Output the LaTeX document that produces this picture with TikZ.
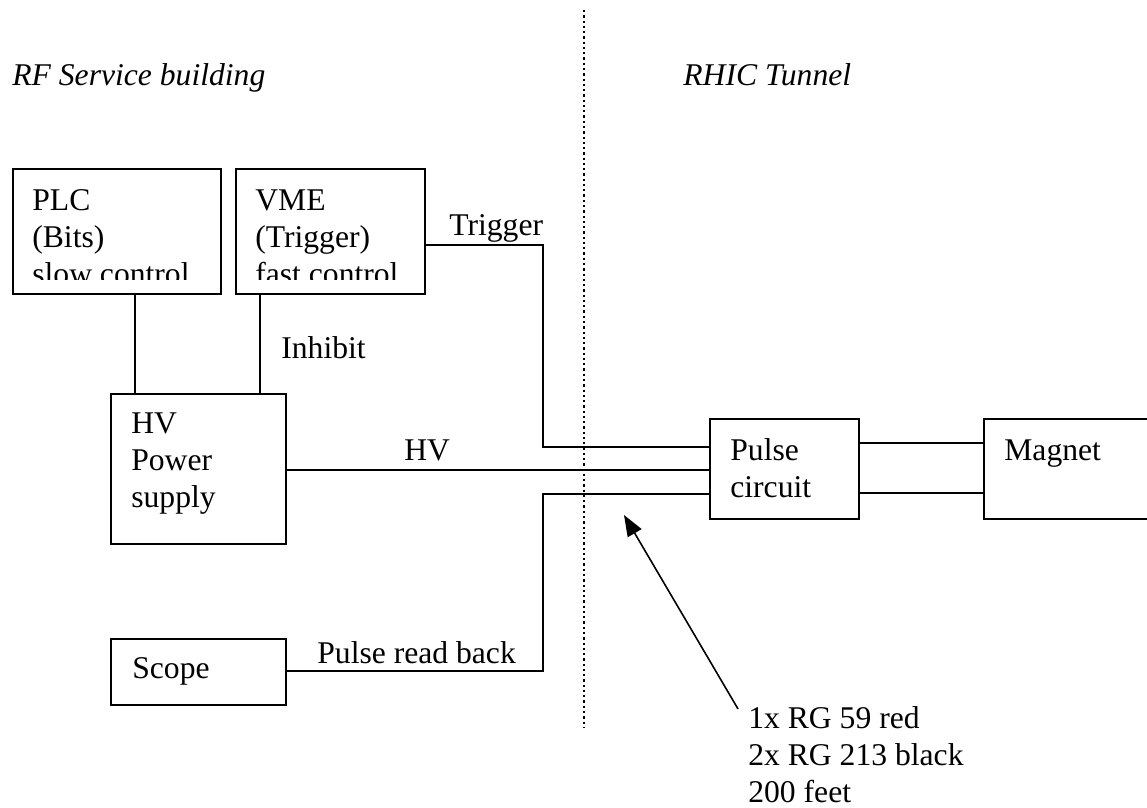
\documentclass[tikz,border=0pt]{standalone}
\usepackage{fontspec}
\setmainfont{Liberation Serif}
\usetikzlibrary{positioning,calc,arrows.meta}
\newcommand{\px}{0.02cm}

\begin{document}
\begin{tikzpicture}[x=\px, y=-\px,
    block/.style={draw, line width=1pt, inner sep=0pt, anchor=north west},
    txt/.style={anchor=base west, inner sep=0pt, align=left, font=\fontsize{18}{21}\selectfont},
    wire/.style={line width=0.9pt}]

    \clip (0,0) rectangle (1147,808);

    % areas
    \node[txt, font=\fontsize{18}{21}\selectfont\itshape] (rfsb) at (12,85) {RF Service building};
    \node[txt, font=\fontsize{18}{21}\selectfont\itshape] (tunnel) at (683,85) {RHIC Tunnel};
    \coordinate (walltop) at (584,10);
    \coordinate (wallbot) at (584,728);
    \draw[line width=1.3pt, dash pattern=on 1.3pt off 1.7pt] (walltop) -- (wallbot);

    % blocks
    \node[block, minimum width={208*\px}, minimum height={125*\px}] (plc) at (12,168) {};
    \node[block, minimum width={189*\px}, minimum height={125*\px}] (vme) at (235,168) {};
    \node[block, minimum width={175*\px}, minimum height={150*\px}] (hv) at (110,393) {};
    \node[block, minimum width={175*\px}, minimum height={66*\px}] (scope) at (110,638) {};
    \node[block, minimum width={149*\px}, minimum height={100*\px}] (pulse) at (709,418) {};
    \node[block, minimum width={180*\px}, minimum height={100*\px}] (magnet) at (983,418) {};

    % texts (base = last line)
    \begin{scope}
        \clip (12,168) rectangle (424,279);
        \node[txt] (plctext) at ($(plc.north west)+(20,116)$) {PLC\\(Bits)\\slow control};
        \node[txt] (vmetext) at ($(vme.north west)+(20,116)$) {VME\\(Trigger)\\fast control};
    \end{scope}
    \node[txt] (hvtext) at ($(hv.north west)+(21,114)$) {HV\\Power\\supply};
    \node[txt] (scopetext) at ($(scope.north west)+(22,40)$) {Scope};
    \node[txt] (pulsetext) at ($(pulse.north west)+(21,79)$) {Pulse\\circuit};
    \node[txt] (magnettext) at ($(magnet.north west)+(21,42)$) {Magnet};

    % cables
    \draw[wire] (135,0 |- plc.south) -- (135,0 |- hv.north);
    \draw[wire] (260,0 |- vme.south) -- (260,0 |- hv.north);
    \node[txt] (inhibit) at (281,358) {Inhibit};

    \draw[wire] (vme.east |- 0,245) -| (543,447) -- (pulse.west |- 0,447);
    \node[txt] (trigger) at (449,235) {Trigger};

    \draw[wire] (hv.east |- 0,470) -- (pulse.west |- 0,470);
    \node[txt] (hvlabel) at (404,460) {HV};

    \draw[wire] (scope.east |- 0,671) -| (543,494) -- (pulse.west |- 0,494);
    \node[txt] (readback) at (317,663) {Pulse read back};

    \draw[wire] (pulse.east |- 0,443) -- (magnet.west |- 0,443);
    \draw[wire] (pulse.east |- 0,493) -- (magnet.west |- 0,493);

    % note
    \coordinate (tip) at (624,515);
    \node[txt] (cable) at (748,802) {1x RG 59 red\\2x RG 213 black\\200 feet};
    \draw[wire, -{Triangle[length=12pt,width=9pt]}] ($(cable.north west)+(-10,3)$) -- (tip);
\end{tikzpicture}
\end{document}
